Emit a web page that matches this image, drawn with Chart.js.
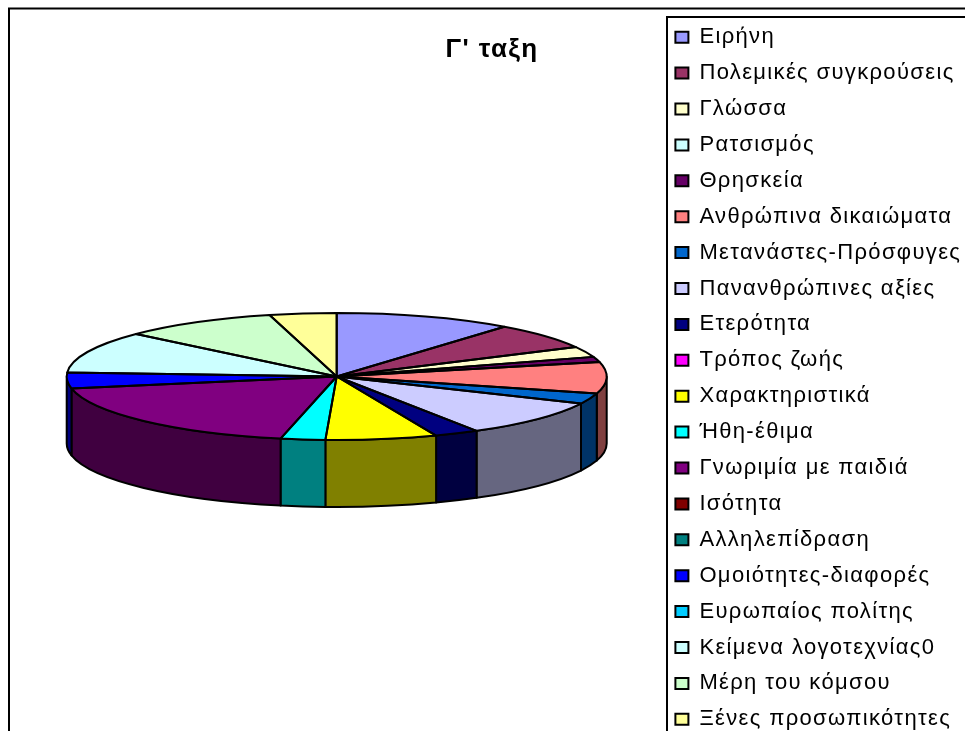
<!DOCTYPE html>
<html><head><meta charset="utf-8">
<style>html,body{margin:0;padding:0;background:#fff;overflow:hidden;width:965px;height:731px}
#wrap{position:absolute;left:0;top:0;width:965px;height:731px;overflow:hidden}
canvas{display:block}</style>
<script src="https://cdn.jsdelivr.net/npm/chart.js@4"></script>
</head><body><div id="wrap"><canvas id="c" width="1000" height="860"></canvas></div>
<script>
const categories = ["Ειρήνη","Πολεμικές συγκρούσεις","Γλώσσα","Ρατσισμός","Θρησκεία","Ανθρώπινα δικαιώματα","Μετανάστες-Πρόσφυγες","Πανανθρώπινες αξίες","Ετερότητα","Τρόπος ζωής","Χαρακτηριστικά","Ήθη-έθιμα","Γνωριμία με παιδιά","Ισότητα","Αλληλεπίδραση","Ομοιότητες-διαφορές","Ευρωπαίος πολίτης","Κείμενα λογοτεχνίας0","Μέρη του κόμσου","Ξένες προσωπικότητες"];
const values = [8,5,2,0,1,6,2,7,2,0,5,2,14,0,0,3,0,8,7,3];
const topColors = ["#9999FF","#993366","#FFFFCC","#CCFFFF","#660066","#FF8080","#0066CC","#CCCCFF","#000080","#FF00FF","#FFFF00","#00FFFF","#800080","#800000","#008080","#0000FF","#00CCFF","#CCFFFF","#CCFFCC","#FFFF99"];
const wallColors = ["#4D4D80","#4D1A33","#808066","#668080","#330033","#804040","#003366","#666680","#000040","#800080","#808000","#008080","#400040","#400000","#004040","#000080","#006680","#668080","#668066","#80804D"];
const titleText = "Γ' ταξη";

const CX = 336.7, CY = 376.5, RX = 270, RY = 63.5, DEPTH = 67, LW = 2;
const genLabels = Chart.overrides.doughnut.plugins.legend.labels.generateLabels;

const pie3d = {
  id: 'pie3d',
  afterLayout(chart) {
    chart.chartArea = {left: CX - RX, right: CX + RX, top: CY - RX, bottom: CY + RX, width: 2 * RX, height: 2 * RX};
    const t = chart.titleBlock, l = chart.legend;
    t.left = 392; t.right = 592; t.top = 34.4; t.bottom = 65.6;
    l.left = 661.5; l.right = 1000; l.top = 12.3; l.bottom = 860;
  },
  beforeDraw(chart) {
    const ctx = chart.ctx;
    ctx.save();
    ctx.fillStyle = '#fff';
    ctx.fillRect(0, 0, chart.width, chart.height);
    ctx.strokeStyle = '#000';
    ctx.lineWidth = 2;
    ctx.strokeRect(9, 8.5, 1200, 1200);
    ctx.strokeRect(667, 17, 1200, 1200);
    ctx.restore();
    ctx.letterSpacing = '1.35px';
  },
  beforeDatasetsDraw(chart) {
    const ctx = chart.ctx, arcs = chart.getDatasetMeta(0).data;
    ctx.save();
    ctx.strokeStyle = '#000';
    ctx.lineWidth = LW;
    ctx.lineJoin = 'round';
    arcs.forEach((a, i) => {
      const a1 = Math.max(a.startAngle, 0), a2 = Math.min(a.endAngle, Math.PI);
      if (a2 <= a1 || a.endAngle - a.startAngle <= 0) return;
      ctx.beginPath();
      ctx.ellipse(CX, CY, RX, RY, 0, a1, a2);
      ctx.ellipse(CX, CY + DEPTH, RX, RY, 0, a2, a1, true);
      ctx.closePath();
      ctx.fillStyle = wallColors[i];
      ctx.fill();
      ctx.stroke();
    });
    ctx.restore();
    const a0 = arcs[0];
    ctx.save();
    ctx.translate(CX, CY);
    ctx.scale(RX / a0.outerRadius, RY / a0.outerRadius);
    ctx.translate(-a0.x, -a0.y);
  },
  afterDatasetsDraw(chart) {
    const ctx = chart.ctx, arcs = chart.getDatasetMeta(0).data;
    ctx.restore();
    ctx.save();
    ctx.strokeStyle = '#000';
    ctx.lineWidth = LW;
    ctx.lineJoin = 'round';
    arcs.forEach(a => {
      if (a.endAngle - a.startAngle <= 0) return;
      ctx.beginPath();
      ctx.moveTo(CX, CY);
      ctx.ellipse(CX, CY, RX, RY, 0, a.startAngle, a.endAngle);
      ctx.closePath();
      ctx.stroke();
    });
    ctx.restore();
  }
};

new Chart(document.getElementById('c'), {
  type: 'pie',
  data: {labels: categories, datasets: [{data: values, backgroundColor: topColors, borderWidth: 0, hoverOffset: 0}]},
  options: {
    responsive: false,
    animation: false,
    events: [],
    plugins: {
      title: {display: true, text: titleText, color: '#000', padding: 0, font: {family: '"Liberation Sans"', size: 26, weight: 'bold'}},
      tooltip: {enabled: false},
      legend: {
        position: 'right', align: 'start',
        labels: {
          color: '#000',
          font: {family: '"Liberation Sans"', size: 22},
          boxWidth: 13, boxHeight: 11, padding: 13.9,
          generateLabels(chart) {
            return genLabels(chart).map(it => Object.assign(it, {strokeStyle: '#000', lineWidth: 2}));
          }
        }
      }
    }
  },
  plugins: [pie3d]
});
</script></body></html>
